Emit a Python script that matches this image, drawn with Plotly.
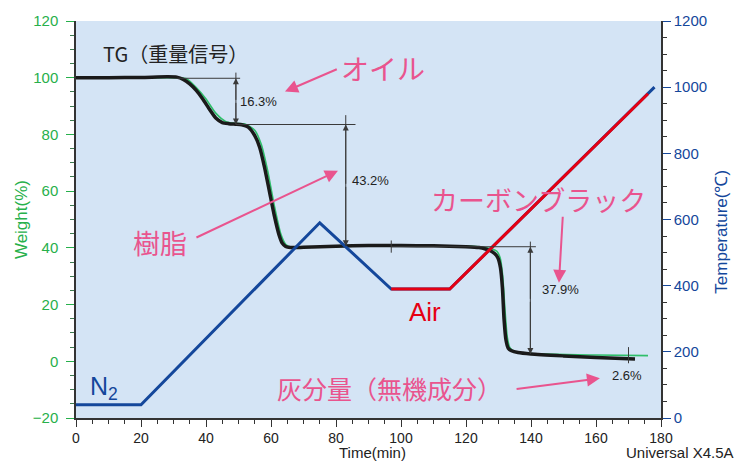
import plotly.graph_objects as go

# --- TG (weight) curve, main run ---
tg_time = [0, 10, 20, 28, 31, 33, 35, 37, 39, 41, 43, 45, 47, 49, 51, 53, 55, 56.5, 58, 59.5,
           61, 62.5, 63.5, 64.5, 66, 70, 80, 90, 100, 110, 120, 124, 126, 127.5, 128.8, 129.8,
           130.6, 131.2, 131.7, 132.3, 133, 134, 136, 140, 150, 160, 172]
tg_weight = [100, 100, 100.1, 100.3, 100.2, 99.4, 97.8, 95.5, 92.5, 89, 85.8, 84.2, 83.8, 83.6,
             83.4, 82.6, 79.6, 75.5, 68.5, 60, 51.5, 44.5, 41.6, 40.5, 40.1, 40.2, 40.6, 40.8,
             40.8, 40.7, 40.4, 40.1, 39.6, 39.0, 38.0, 36.5, 33, 26, 15, 7.5, 4.6, 3.7, 3.1,
             2.6, 1.9, 1.3, 0.8]

# --- TG (weight) curve, second run (thin green) ---
tg2_time = [0, 20, 31, 34, 37, 40, 43, 46, 49, 52, 55, 57, 59, 61, 63, 64.5, 66, 70, 100, 120,
            125, 128, 129.5, 130.5, 131.3, 132, 132.7, 133.5, 135, 140, 160, 176]
tg2_weight = [100, 100, 100, 99.6, 96.5, 92.5, 87.5, 84.6, 83.9, 83.7, 81.5, 76.5, 67, 55, 45,
              41.3, 40.3, 40.3, 40.8, 40.6, 40.3, 39.6, 38.8, 36.5, 30, 18, 8.5, 4.8, 3.4,
              2.7, 2.2, 2.0]

# --- temperature program ---
temp_time = [0, 20, 75, 97, 115, 178]
temp_c = [40, 40, 590, 390, 390, 1000]
air_time = [97, 115, 176]
air_c = [390, 390, 980]

# --- weight-loss steps ---
step_labels = ["16.3%", "43.2%", "37.9%", "2.6%"]

PINK = "#e9548e"
GREEN = "#27b04b"
BLUE = "#14479b"
DARK = "#222222"
JP = "Noto Sans CJK JP"
SANS = "Liberation Sans, Arial, sans-serif"

fig = go.Figure()

fig.add_trace(go.Scatter(x=temp_time, y=temp_c, yaxis="y2", mode="lines",
                         line=dict(color=BLUE, width=3), hoverinfo="skip"))
fig.add_trace(go.Scatter(x=air_time, y=air_c, yaxis="y2", mode="lines",
                         line=dict(color="#e60012", width=3), hoverinfo="skip"))
fig.add_trace(go.Scatter(x=tg2_time, y=tg2_weight, mode="lines",
                         line=dict(color="#2fbf6a", width=1.6, shape="spline", smoothing=0.6),
                         hoverinfo="skip"))
fig.add_trace(go.Scatter(x=tg_time, y=tg_weight, mode="lines",
                         line=dict(color="#1a1a1a", width=3.5, shape="spline", smoothing=0.6),
                         hoverinfo="skip"))

# measurement guide lines
guides = [
    (31, 99.8, 50.5, 99.8),
    (49.2, 83.5, 86, 83.5),
    (49.2, 101.8, 49.2, 83.5),
    (83, 86.8, 83, 40.6),
    (97, 40.4, 141.5, 40.4),
    (97, 38.3, 97, 42.6),
    (139.8, 42.2, 139.8, 2.6),
    (170, 5.0, 170, -0.7),
]
for x0, y0, x1, y1 in guides:
    fig.add_shape(type="line", x0=x0, y0=y0, x1=x1, y1=y1, xref="x", yref="y",
                  line=dict(color="#3a3a3a", width=1))

# double-headed dimension arrows
dims = [(49.2, 99.8, 83.5), (83, 83.5, 40.6), (139.8, 40.4, 2.6)]
for xd, top, bot in dims:
    mid = (top + bot) / 2
    for tip in (top, bot):
        fig.add_annotation(x=xd, y=tip, ax=xd, ay=mid, xref="x", yref="y", axref="x", ayref="y",
                           text="", showarrow=True, arrowhead=2, arrowsize=1.2, arrowwidth=1,
                           arrowcolor="#3a3a3a")

# step labels
for txt, xt, yt in zip(step_labels, [49.8, 84.3, 142.8, 164.3], [91.7, 63.7, 25.2, -4.9]):
    fig.add_annotation(x=xt, y=yt, xref="x", yref="y", text=txt, showarrow=False,
                       xanchor="left", font=dict(family=SANS, size=13, color=DARK))

# pink callout arrows
callouts = [
    (64.3, 95.1, 80.7, 103.2),
    (80.6, 67.2, 36.6, 43.4),
    (148.6, 27.7, 149.8, 51.5),
    (161.2, -6.0, 135.1, -9.8),
]
for hx, hy, tx, ty in callouts:
    fig.add_annotation(x=hx, y=hy, ax=tx, ay=ty, xref="x", yref="y", axref="x", ayref="y",
                       text="", showarrow=True, arrowhead=2, arrowsize=1.3, arrowwidth=2,
                       arrowcolor=PINK)

# text labels on the plot
labels = [
    ("オイル", 94.5, 103.3, PINK, 28, JP),
    ("樹脂", 25.8, 42.0, PINK, 27, JP),
    ("カーボンブラック", 142.2, 57.0, PINK, 27, JP),
    ("灰分量（無機成分）", 96.6, -9.5, PINK, 25, JP),
    ("TG（重量信号）", 30.5, 108.5, DARK, 20, JP),
    ("Air", 107.4, 17.5, "#e60012", 26, SANS),
    ("N<sub>2</sub>", 8.6, -9.3, BLUE, 25, SANS),
]
for txt, xt, yt, col, sz, fam in labels:
    fig.add_annotation(x=xt, y=yt, xref="x", yref="y", text=txt, showarrow=False,
                       font=dict(family=fam, size=sz, color=col))

# axis titles
fig.add_annotation(x=-0.093, y=0.5, xref="paper", yref="paper", text="Weight(%)",
                   textangle=-90, showarrow=False, xanchor="center", yanchor="middle",
                   font=dict(family=SANS, size=17, color=GREEN))
fig.add_annotation(x=1.103, y=0.47, xref="paper", yref="paper", text="Temperature(℃)",
                   textangle=-90, showarrow=False, xanchor="center", yanchor="middle",
                   font=dict(family=SANS, size=17, color=BLUE))
fig.add_annotation(x=0.506, y=-0.1115, xref="paper", yref="paper", text="Time(min)",
                   showarrow=False, xanchor="center", yanchor="bottom", borderpad=0,
                   font=dict(family=SANS, size=15, color=DARK))
fig.add_annotation(x=1.127, y=-0.1115, xref="paper", yref="paper", text="Universal X4.5A",
                   xanchor="right", yanchor="bottom", showarrow=False, borderpad=0,
                   font=dict(family=SANS, size=15, color=DARK))

fig.update_layout(
    width=737, height=463,
    margin=dict(l=76, r=76, t=18, b=45),
    paper_bgcolor="white",
    plot_bgcolor="#d4e4f5",
    showlegend=False,
    xaxis=dict(range=[0, 180], dtick=20, showgrid=False, zeroline=False,
               showline=True, linecolor="#333333", linewidth=1.5,
               ticks="outside", ticklen=7, tickcolor="#333333", ticklabelstandoff=-1,
               minor=dict(dtick=5, ticks="outside", ticklen=4, tickcolor="#333333"),
               tickfont=dict(family=SANS, size=14, color=DARK)),
    yaxis=dict(range=[-20, 120], dtick=20, showgrid=False, zeroline=False,
               showline=True, linecolor="#333333", linewidth=1.5,
               ticks="outside", ticklen=8, tickcolor=GREEN, ticklabelstandoff=5,
               minor=dict(dtick=5, ticks="outside", ticklen=4, tickcolor="#3d7a4f"),
               tickfont=dict(family=SANS, size=15, color=GREEN)),
    yaxis2=dict(range=[0, 1200], dtick=200, overlaying="y", side="right",
                showgrid=False, zeroline=False,
                showline=True, linecolor="#333333", linewidth=1.5,
                ticks="outside", ticklen=8, tickcolor=BLUE,
                minor=dict(dtick=50, ticks="outside", ticklen=4, tickcolor="#333333"),
                tickfont=dict(family=SANS, size=15, color=BLUE)),
)

fig.write_html("out.html")
